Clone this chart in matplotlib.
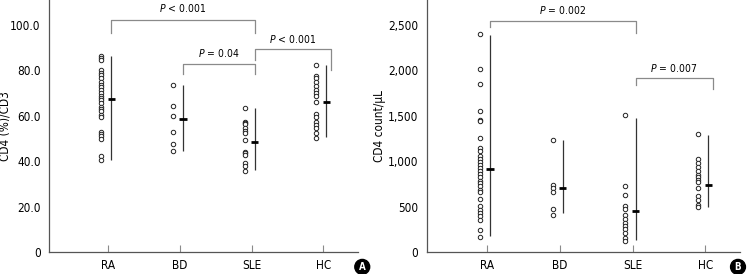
import matplotlib.pyplot as plt

plt.rcParams['font.family'] = ['DejaVu Sans']
plt.rcParams['font.stretch'] = 'condensed'
plt.rcParams['mathtext.fontset'] = 'custom'
plt.rcParams['mathtext.it'] = 'DejaVu Sans:style=italic:stretch=condensed'
plt.rcParams['mathtext.rm'] = 'DejaVu Sans:stretch=condensed'

groups = ['RA', 'BD', 'SLE', 'HC']

# panel A: CD4 (%)/CD3
pct_ra = [86.4, 85.5, 84.6, 80.2, 79.0, 78.0, 76.8, 75.0, 73.6, 72.6, 71.4, 70.0, 68.9,
          67.9, 67.0, 65.5, 64.0, 63.0, 61.9, 60.4, 59.4, 53.0, 52.0, 50.9, 49.7, 42.5, 40.5]
pct_bd = [73.6, 64.1, 59.8, 52.8, 47.5, 44.3]
pct_sle = [63.4, 57.4, 57.0, 56.3, 54.5, 53.3, 52.5, 49.3, 44.2, 43.7, 42.7, 39.1, 37.9, 35.7]
pct_hc = [82.4, 77.7, 76.6, 75.1, 73.3, 71.4, 70.0, 68.5, 66.2, 60.7, 59.6, 57.4, 56.0,
          54.5, 52.3, 50.4]
pct_median = [67.6, 58.6, 48.6, 66.2]
pct_low = [40.6, 44.3, 36.0, 50.8]
pct_high = [86.4, 73.6, 63.4, 82.4]

# panel B: CD4 count/uL
cnt_ra = [2404, 2015, 1847, 1549, 1457, 1446, 1255, 1145, 1108, 1054, 1024, 991, 962, 925,
          896, 863, 826, 778, 760, 730, 686, 657, 584, 503, 466, 430, 393, 356, 239, 165]
cnt_bd = [1237, 742, 705, 657, 474, 411]
cnt_sle = [1505, 723, 631, 503, 477, 411, 367, 319, 283, 253, 209, 154, 125]
cnt_hc = [1300, 1024, 980, 936, 896, 852, 822, 797, 767, 705, 613, 569, 521, 496]
cnt_median = [914, 705, 455, 742]
cnt_low = [172, 430, 128, 496]
cnt_high = [2393, 1230, 1476, 1292]

fig = plt.figure(figsize=(7.5, 2.74), dpi=100)
axA = fig.add_axes([0.0653, 0.0803, 0.4117, 0.9197])
axB = fig.add_axes([0.569, 0.0803, 0.418, 0.9197])

gray = '#8a8a8a'


def panel(ax, data, med, lo, hi, ylim, yticks, ylabels, ylab, labx):
    for i, vals in enumerate(data):
        ax.plot([i - 0.1] * len(vals), vals, 'o', ms=3.2, mfc='white', mec='#222222',
                mew=0.7, zorder=3)
        ax.vlines(i + 0.04, lo[i], hi[i], color='#333333', lw=0.9)
        ax.hlines(med[i], i - 0.01, i + 0.09, color='black', lw=2)
    ax.set_xlim(-0.83, 3.48)
    ax.set_ylim(*ylim)
    ax.set_xticks(range(4))
    ax.set_xticklabels(groups)
    ax.set_yticks(yticks)
    ax.set_yticklabels(ylabels)
    ax.set_ylabel(ylab, fontsize=8.5)
    ax.yaxis.set_label_coords(labx, 0.5)
    for s in ['top', 'right']:
        ax.spines[s].set_visible(False)
    for s in ['left', 'bottom']:
        ax.spines[s].set_color('#555555')
        ax.spines[s].set_linewidth(0.9)
    ax.tick_params(axis='x', direction='in', length=5, color=gray, labelsize=8.5, pad=5)
    ax.tick_params(axis='y', length=0, labelsize=8.5, pad=6)


def bracket(ax, x1, x2, y, y1, y2, label, ty):
    ax.plot([x1, x1, x2, x2], [y1, y, y, y2], color=gray, lw=0.9, clip_on=False)
    ax.text((x1 + x2) / 2, ty, label, ha='center', va='center', fontsize=7.5)


panel(axA, [pct_ra, pct_bd, pct_sle, pct_hc], pct_median, pct_low, pct_high,
      (0, 111), [0, 20, 40, 60, 80, 100], ['0', '20.0', '40.0', '60.0', '80.0', '100.0'],
      'CD4 (%)/CD3', -0.12)
bracket(axA, 0.04, 2.04, 102, 96.5, 96.5, '$P$ < 0.001', 107.5)
bracket(axA, 1.04, 2.04, 83, 78.5, 78.5, '$P$ = 0.04', 87.5)
bracket(axA, 2.04, 3.1, 89.4, 84.5, 80, '$P$ < 0.001', 94)

panel(axB, [cnt_ra, cnt_bd, cnt_sle, cnt_hc], cnt_median, cnt_low, cnt_high,
      (0, 2775), [0, 500, 1000, 1500, 2000, 2500],
      ['0', '500', '1,000', '1,500', '2,000', '2,500'], 'CD4 count/μL', -0.13)
bracket(axB, 0.04, 2.04, 2544, 2478, 2412, '$P$ = 0.002', 2660)
bracket(axB, 2.04, 3.1, 1916, 1839, 1795, '$P$ = 0.007', 2030)

for x, s in [(0.483, 'A'), (0.984, 'B')]:
    fig.text(x, 0.026, s, ha='center', va='center', color='white', fontsize=7,
             fontweight='bold',
             bbox=dict(boxstyle='circle,pad=0.25', fc='black', ec='black'))

fig.savefig('out.png', dpi=100)
